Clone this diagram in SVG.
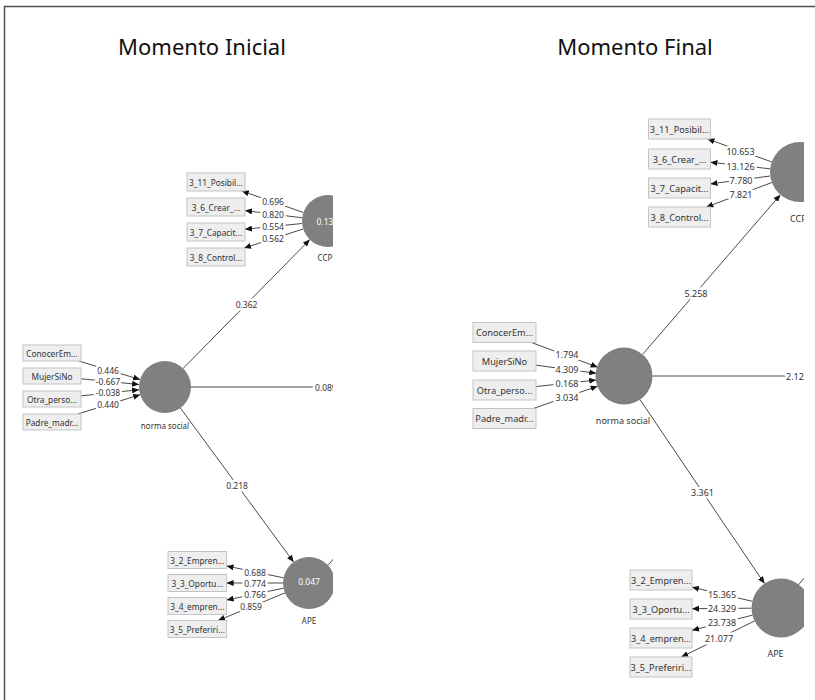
<svg xmlns="http://www.w3.org/2000/svg" width="815" height="700" viewBox="0 0 815 700">
  <defs>
    <style>
      .frame { fill: none; stroke: #505050; stroke-width: 1.5; }
      .title { font-family: "Noto Sans", "Open Sans", sans-serif; font-size: 22px; fill: #111; text-anchor: middle; }
      .lv { fill: #808080; }
      .lvtxt { font-family: "Noto Sans", "Open Sans", sans-serif; font-size: 8.5px; fill: #ffffff; dominant-baseline: central; }
      .lvname { font-family: "Noto Sans", "Open Sans", sans-serif; font-size: 8px; fill: #333; text-anchor: middle; dominant-baseline: central; }
      .lvnameR { font-family: "Noto Sans", "Open Sans", sans-serif; font-size: 9px; fill: #333; text-anchor: middle; dominant-baseline: central; }
      .box { fill: #eeeeee; stroke: #c4c4c4; stroke-width: 1; }
      .boxtxt { font-family: "Noto Sans", "Open Sans", sans-serif; font-size: 8.3px; fill: #333; text-anchor: middle; dominant-baseline: central; }
      .boxtxtR { font-family: "Noto Sans", "Open Sans", sans-serif; font-size: 9.2px; fill: #333; text-anchor: middle; dominant-baseline: central; }
      .edge { fill: none; stroke: #4a4a4a; stroke-width: 1; }
      .arrow { marker-end: url(#head); }
      .coef { font-family: "Noto Sans", "Open Sans", sans-serif; font-size: 8.5px; fill: #333; text-anchor: middle; dominant-baseline: central; stroke: #ffffff; stroke-width: 5; paint-order: stroke; stroke-linejoin: round; }
      .coefR { font-family: "Noto Sans", "Open Sans", sans-serif; font-size: 9px; fill: #333; text-anchor: middle; dominant-baseline: central; stroke: #ffffff; stroke-width: 5; paint-order: stroke; stroke-linejoin: round; }
    </style>
    <marker id="head" viewBox="0 0 7 6" refX="7" refY="3" markerWidth="7" markerHeight="6" markerUnits="userSpaceOnUse" orient="auto">
      <path d="M0,0 L7,3 L0,6 z" fill="#111"/>
    </marker>
    <clipPath id="clipL"><rect x="0" y="0" width="333" height="700"/></clipPath>
    <clipPath id="clipR"><rect x="440" y="0" width="364" height="700"/></clipPath>
  </defs>

  <rect x="0" y="0" width="815" height="700" fill="#ffffff"/>
  <path class="frame" d="M4.5,700 V6.5 H815"/>

  <text class="title" x="202" y="55">Momento Inicial</text>
  <text class="title" x="635" y="55">Momento Final</text>

  <!-- Initial model -->
  <g clip-path="url(#clipL)">
    <g id="connectors-initial">
      <!-- formative indicators into norma social -->
      <line class="edge arrow" x1="78.6" y1="361" x2="140.1" y2="379.5"/>
      <line class="edge arrow" x1="81" y1="378.8" x2="139.1" y2="384.5"/>
      <line class="edge arrow" x1="81" y1="395.9" x2="139.1" y2="389.7"/>
      <line class="edge arrow" x1="77.8" y1="414" x2="140.2" y2="394.7"/>
      <text class="coef" x="108" y="370.3">0.446</text>
      <text class="coef" x="108" y="381.7">-0.667</text>
      <text class="coef" x="108" y="392.8">-0.038</text>
      <text class="coef" x="108" y="404.4">0.440</text>

      <!-- CCP loadings -->
      <line class="edge arrow" x1="303.4" y1="212.5" x2="241.8" y2="191"/>
      <line class="edge arrow" x1="302.2" y1="217.8" x2="245" y2="210.6"/>
      <line class="edge arrow" x1="302.1" y1="223.5" x2="245" y2="229.2"/>
      <line class="edge arrow" x1="303.2" y1="229" x2="244" y2="248"/>
      <text class="coef" x="273" y="201.8">0.696</text>
      <text class="coef" x="273" y="214.2">0.820</text>
      <text class="coef" x="273" y="226.4">0.554</text>
      <text class="coef" x="273" y="238.5">0.562</text>

      <!-- APE loadings -->
      <line class="edge arrow" x1="283.5" y1="577.8" x2="226.6" y2="566"/>
      <line class="edge arrow" x1="283" y1="583" x2="226.6" y2="583"/>
      <line class="edge arrow" x1="283.5" y1="588.2" x2="226.6" y2="600"/>
      <line class="edge arrow" x1="285" y1="592.9" x2="218" y2="620.5"/>
      <text class="coef" x="255" y="572">0.688</text>
      <text class="coef" x="255" y="583">0.774</text>
      <text class="coef" x="255" y="594">0.766</text>
      <text class="coef" x="251" y="606.7">0.859</text>

      <!-- structural paths -->
      <line class="edge arrow" x1="183.2" y1="368.4" x2="309.8" y2="239.6"/>
      <text class="coef" x="246.5" y="304">0.362</text>
      <line class="edge arrow" x1="180.4" y1="408" x2="293.6" y2="562"/>
      <text class="coef" x="237" y="485">0.218</text>
      <line class="edge" x1="191" y1="387" x2="345" y2="387"/>
      <text class="coef" x="315" y="387" style="text-anchor:start">0.089</text>
      <line class="edge" x1="328.3" y1="565" x2="345" y2="545"/>
    </g>

    <g id="norma-social-initial">
      <circle class="lv" cx="165" cy="387" r="26"/>
      <text class="lvname" x="165" y="425">norma social</text>
    </g>
    <g id="ccp-initial">
      <circle class="lv" cx="328" cy="221" r="26"/>
      <text class="lvtxt" x="316.5" y="221">0.13</text>
      <text class="lvname" x="317.5" y="257" style="text-anchor:start">CCP</text>
    </g>
    <g id="ape-initial">
      <circle class="lv" cx="309" cy="583" r="26"/>
      <text class="lvtxt" x="309" y="581" style="text-anchor:middle">0.047</text>
      <text class="lvname" x="309" y="620">APE</text>
    </g>

    <g id="ind-conocer-initial"><rect class="box" x="23" y="345" width="58" height="16"/><text class="boxtxt" x="52" y="353">ConocerEm...</text></g>
    <g id="ind-mujer-initial"><rect class="box" x="23" y="368" width="58" height="16"/><text class="boxtxt" x="52" y="376">MujerSiNo</text></g>
    <g id="ind-otra-initial"><rect class="box" x="23" y="391" width="58" height="16"/><text class="boxtxt" x="52" y="399">Otra_perso...</text></g>
    <g id="ind-padre-initial"><rect class="box" x="23" y="414" width="58" height="16"/><text class="boxtxt" x="52" y="422">Padre_madr...</text></g>

    <g id="ind-3-11-initial"><rect class="box" x="187" y="173" width="58" height="18"/><text class="boxtxt" x="216" y="182">3_11_Posibil...</text></g>
    <g id="ind-3-6-initial"><rect class="box" x="187" y="198" width="58" height="18"/><text class="boxtxt" x="216" y="207">3_6_Crear_...</text></g>
    <g id="ind-3-7-initial"><rect class="box" x="187" y="223" width="58" height="18"/><text class="boxtxt" x="216" y="232">3_7_Capacit...</text></g>
    <g id="ind-3-8-initial"><rect class="box" x="187" y="248" width="58" height="18"/><text class="boxtxt" x="216" y="257">3_8_Control...</text></g>

    <g id="ind-3-2-initial"><rect class="box" x="168" y="551.5" width="58.6" height="17"/><text class="boxtxt" x="197.3" y="560">3_2_Empren...</text></g>
    <g id="ind-3-3-initial"><rect class="box" x="168" y="574.5" width="58.6" height="17"/><text class="boxtxt" x="197.3" y="583">3_3_Oportu...</text></g>
    <g id="ind-3-4-initial"><rect class="box" x="168" y="597.5" width="58.6" height="17"/><text class="boxtxt" x="197.3" y="606">3_4_empren...</text></g>
    <g id="ind-3-5-initial"><rect class="box" x="168" y="620.5" width="58.6" height="17"/><text class="boxtxt" x="197.3" y="629">3_5_Preferiri...</text></g>
  </g>

  <!-- Final model -->
  <g clip-path="url(#clipR)">
    <g id="connectors-final">
      <line class="edge arrow" x1="531.4" y1="342.5" x2="597.7" y2="367.2"/>
      <line class="edge arrow" x1="535.5" y1="365.1" x2="596.3" y2="373.3"/>
      <line class="edge arrow" x1="535.5" y1="386.6" x2="596.2" y2="380"/>
      <line class="edge arrow" x1="533.3" y1="408.5" x2="597.6" y2="386.2"/>
      <text class="coefR" x="567" y="354.5">1.794</text>
      <text class="coefR" x="567" y="369">4.309</text>
      <text class="coefR" x="567" y="383">0.168</text>
      <text class="coefR" x="567" y="397.5">3.034</text>

      <line class="edge arrow" x1="771.7" y1="161.9" x2="707.5" y2="139"/>
      <line class="edge arrow" x1="770.2" y1="168.8" x2="710.5" y2="162.3"/>
      <line class="edge arrow" x1="770.2" y1="176" x2="710.5" y2="183.9"/>
      <line class="edge arrow" x1="771.9" y1="182.5" x2="706.3" y2="207"/>
      <text class="coefR" x="740.5" y="151">10.653</text>
      <text class="coefR" x="740.5" y="166">13.126</text>
      <text class="coefR" x="741" y="180">7.780</text>
      <text class="coefR" x="741" y="194.5">7.821</text>

      <line class="edge arrow" x1="752.3" y1="601.3" x2="692" y2="587.2"/>
      <line class="edge arrow" x1="751.5" y1="608.2" x2="692" y2="608.7"/>
      <line class="edge arrow" x1="752.4" y1="615.2" x2="692" y2="630.3"/>
      <line class="edge arrow" x1="754.5" y1="621" x2="681.3" y2="657"/>
      <text class="coefR" x="722" y="594.3">15.365</text>
      <text class="coefR" x="722" y="608.5">24.329</text>
      <text class="coefR" x="722" y="622.7">23.738</text>
      <text class="coefR" x="719" y="638.7">21.077</text>

      <line class="edge arrow" x1="642.6" y1="354.4" x2="780.4" y2="194.7"/>
      <text class="coefR" x="696" y="293">5.258</text>
      <line class="edge arrow" x1="640" y1="399.6" x2="764.5" y2="583.6"/>
      <text class="coefR" x="702.5" y="492">3.361</text>
      <line class="edge" x1="652.5" y1="376" x2="815" y2="376"/>
      <text class="coefR" x="786" y="376" style="text-anchor:start">2.12</text>
      <line class="edge" x1="798.3" y1="585" x2="812" y2="569"/>
    </g>

    <g id="norma-social-final">
      <circle class="lv" cx="624" cy="376" r="28.5"/>
      <text class="lvnameR" x="623" y="420">norma social</text>
    </g>
    <g id="ccp-final">
      <circle class="lv" cx="800" cy="172" r="30"/>
      <text class="lvnameR" x="790" y="218" style="text-anchor:start">CCP</text>
    </g>
    <g id="ape-final">
      <circle class="lv" cx="781" cy="608" r="29.5"/>
      <text class="lvnameR" x="775.5" y="653">APE</text>
    </g>

    <g id="ind-conocer-final"><rect class="box" x="473" y="322.5" width="63" height="20"/><text class="boxtxtR" x="504.5" y="332.5">ConocerEm...</text></g>
    <g id="ind-mujer-final"><rect class="box" x="473" y="351" width="63" height="20"/><text class="boxtxtR" x="504.5" y="361">MujerSiNo</text></g>
    <g id="ind-otra-final"><rect class="box" x="473" y="380" width="63" height="20"/><text class="boxtxtR" x="504.5" y="390">Otra_perso...</text></g>
    <g id="ind-padre-final"><rect class="box" x="473" y="408.5" width="63" height="20"/><text class="boxtxtR" x="504.5" y="418.5">Padre_madr...</text></g>

    <g id="ind-3-11-final"><rect class="box" x="648.5" y="119" width="62" height="20"/><text class="boxtxtR" x="679.5" y="129">3_11_Posibil...</text></g>
    <g id="ind-3-6-final"><rect class="box" x="648.5" y="149" width="62" height="20"/><text class="boxtxtR" x="679.5" y="159">3_6_Crear_...</text></g>
    <g id="ind-3-7-final"><rect class="box" x="648.5" y="178" width="62" height="20"/><text class="boxtxtR" x="679.5" y="188">3_7_Capacit...</text></g>
    <g id="ind-3-8-final"><rect class="box" x="648.5" y="207" width="62" height="20"/><text class="boxtxtR" x="679.5" y="217">3_8_Control...</text></g>

    <g id="ind-3-2-final"><rect class="box" x="630" y="570" width="62" height="20"/><text class="boxtxtR" x="661" y="580">3_2_Empren...</text></g>
    <g id="ind-3-3-final"><rect class="box" x="630" y="599" width="62" height="20"/><text class="boxtxtR" x="661" y="609">3_3_Oportu...</text></g>
    <g id="ind-3-4-final"><rect class="box" x="630" y="628" width="62" height="20"/><text class="boxtxtR" x="661" y="638">3_4_empren...</text></g>
    <g id="ind-3-5-final"><rect class="box" x="630" y="657" width="62" height="20"/><text class="boxtxtR" x="661" y="667">3_5_Preferiri...</text></g>
  </g>
</svg>
